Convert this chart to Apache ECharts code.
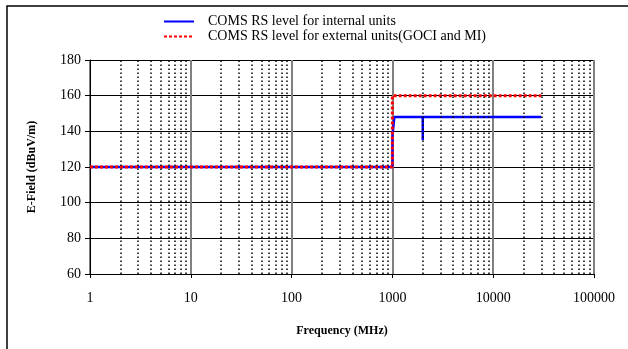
<!DOCTYPE html>
<html>
<head>
<meta charset="utf-8">
<script src="https://cdn.jsdelivr.net/npm/echarts@6/dist/echarts.min.js"></script>
<style>
  html, body { margin: 0; padding: 0; background: #fff; }
  #chart { width: 628px; height: 349px; }
</style>
</head>
<body>
<div id="chart"></div>
<script>
// RS levels, stepped lines (frequency in MHz, level in dBuV/m)
const internalFreq  = [1,   1000, 1000, 1045, 1045, 2000, 2000, 2000, 30000];
const internalLevel = [120, 120,  137,  137,  148,  148,  135,  148,  148];
const externalFreq  = [1,   1000, 1000, 30000];
const externalLevel = [120, 120,  160,  160];

const yTicks = [60, 80, 100, 120, 140, 160, 180];
const decades = [1, 10, 100, 1000, 10000];
const minorSteps = [2, 3, 4, 5, 6, 7, 8, 9];

const font = "'Liberation Serif', 'Times New Roman', serif";

// dotted minor grid at 2..9 of every decade
const minorLines = [];
decades.forEach(d => minorSteps.forEach(m => minorLines.push({ xAxis: d * m })));

const chart = echarts.init(document.getElementById("chart"), null, { renderer: "canvas" });

const option = {
  backgroundColor: "#fff",
  animation: false,
  textStyle: { fontFamily: font, color: "#000" },
  graphic: [
    {
      type: "rect",
      shape: { x: 7, y: 6, width: 700, height: 400 },
      style: { fill: "none", stroke: "#000", lineWidth: 1.5 },
      silent: true,
    },
  ],
  legend: {
    orient: "vertical",
    left: 158,
    top: 9,
    itemWidth: 30,
    itemHeight: 10,
    itemGap: 0,
    itemStyle: { opacity: 0 },
    textStyle: { fontFamily: font, fontSize: 14, color: "#000", lineHeight: 15, padding: [0, 0, 0, 9] },
    data: ["COMS RS level for internal units", "COMS RS level for external units(GOCI and MI)"],
  },
  grid: { left: 90, right: 34, top: 60, bottom: 75 },
  xAxis: {
    type: "log",
    logBase: 10,
    min: 1,
    max: 100000,
    name: "Frequency (MHz)",
    nameLocation: "middle",
    nameGap: 51,
    nameTextStyle: { fontFamily: font, fontSize: 12, fontWeight: "bold", color: "#000" },
    axisLine: { lineStyle: { color: "#000", width: 1 } },
    axisTick: { show: true, length: 4, lineStyle: { color: "#000" } },
    axisLabel: { fontFamily: font, fontSize: 14, color: "#000", margin: 17, formatter: v => String(v) },
    splitLine: { show: true, lineStyle: { color: "#808080", width: 2 } },
  },
  yAxis: {
    type: "value",
    min: yTicks[0],
    max: yTicks[yTicks.length - 1],
    interval: 20,
    name: "E-Field (dBuV/m)",
    nameLocation: "middle",
    nameGap: 52,
    nameTextStyle: { fontFamily: font, fontSize: 12, fontWeight: "bold", color: "#000" },
    axisLine: { show: true, lineStyle: { color: "#000", width: 1 } },
    axisTick: { show: true, inside: false, length: 5, lineStyle: { color: "#000" } },
    axisLabel: { fontFamily: font, fontSize: 14, color: "#000", margin: 9 },
    splitLine: { show: true, lineStyle: { color: "#000", width: 1 } },
  },
  series: [
    {
      name: "minor",
      type: "line",
      data: [],
      silent: true,
      markLine: {
        silent: true,
        symbol: ["none", "none"],
        label: { show: false },
        lineStyle: { color: "#000", width: 1.5, type: [1.5, 2.5] },
        emphasis: { disabled: true },
        data: minorLines,
      },
    },
    {
      name: "COMS RS level for internal units",
      type: "line",
      data: internalFreq.map((f, i) => [f, internalLevel[i]]),
      symbol: "none",
      lineStyle: { color: "#0000ff", width: 2.5 },
      itemStyle: { color: "#0000ff" },
      z: 3,
    },
    {
      name: "COMS RS level for external units(GOCI and MI)",
      type: "line",
      data: externalFreq.map((f, i) => [f, externalLevel[i]]),
      symbol: "none",
      lineStyle: { color: "#ff0000", width: 3, type: [3, 2] },
      itemStyle: { color: "#ff0000" },
      z: 4,
    },
  ],
};

chart.setOption(option);
</script>
</body>
</html>
